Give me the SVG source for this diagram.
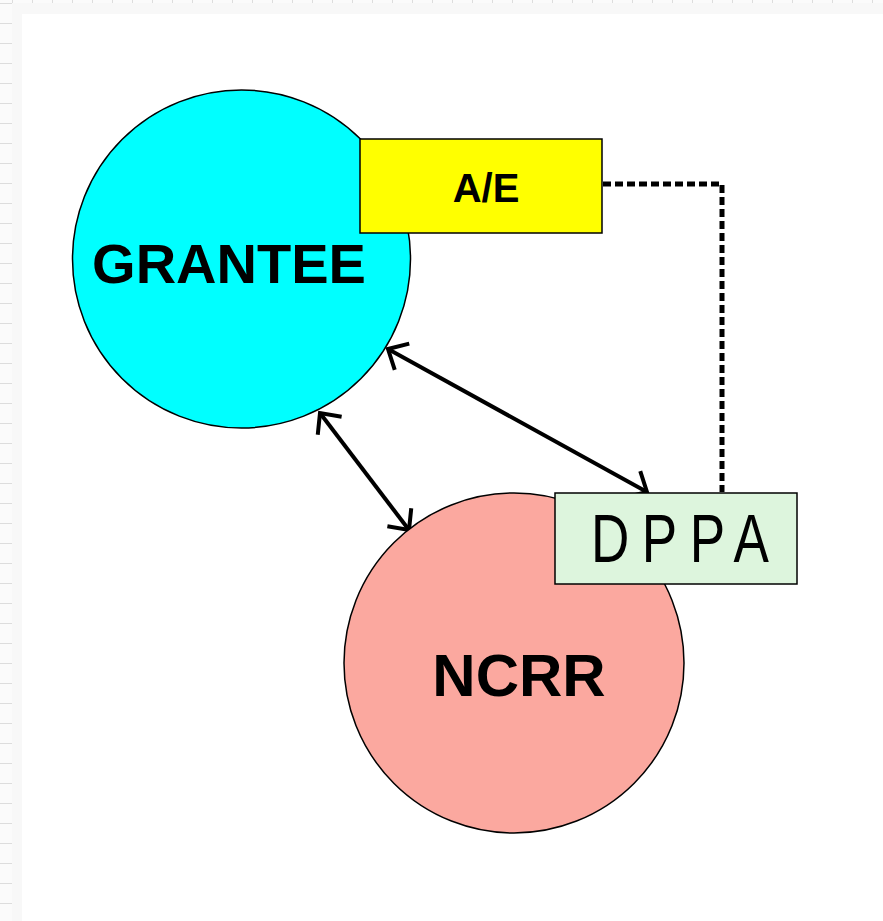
<svg xmlns="http://www.w3.org/2000/svg" width="883" height="921" viewBox="0 0 883 921">
<style>
.node{stroke:#000;stroke-width:1.5}
.lbl{font-family:"Liberation Sans",Arial,sans-serif;font-weight:bold;fill:#000;text-anchor:middle}
.conn{stroke:#000;stroke-width:4;fill:none}
.dot{stroke:#000;stroke-width:5;fill:none;stroke-dasharray:8 4}
</style>
<defs>
<pattern id="grid" width="20" height="20" patternUnits="userSpaceOnUse" x="-8" y="-17">
<rect width="20" height="20" fill="#fbfbfb"/>
<path d="M0,0 H20 M0,0 V20" stroke="#dddddd" stroke-width="2"/>
</pattern>
<marker id="head" markerUnits="userSpaceOnUse" markerWidth="40" markerHeight="40" viewBox="-20 -20 40 40" refX="0" refY="0" orient="auto-start-reverse">
<path d="M-16,-15 L0,0 L-16,15" fill="none" stroke="#000" stroke-width="4"/>
</marker>
</defs>
<rect width="883" height="921" fill="url(#grid)"/>
<rect x="12" y="3" width="871" height="918" fill="#f8f8f8"/>
<rect x="22" y="14" width="861" height="907" fill="#ffffff"/>

<g id="connectors">
<path class="dot" d="M603,184 H722 V492"/>
<line class="conn" x1="388" y1="349" x2="647" y2="492" marker-start="url(#head)" marker-end="url(#head)"/>
<line class="conn" x1="320" y1="413" x2="409" y2="530" marker-start="url(#head)" marker-end="url(#head)"/>
</g>

<g id="grantee">
<circle class="node" cx="241.5" cy="259" r="169" fill="#00ffff"/>
<text class="lbl" x="229" y="283" font-size="56">GRANTEE</text>
</g>

<g id="ae">
<rect class="node" x="360" y="139" width="242" height="94" fill="#ffff00"/>
<text class="lbl" x="486" y="202" font-size="40">A/E</text>
</g>

<g id="ncrr">
<circle class="node" cx="514" cy="663" r="170" fill="#fba89f"/>
<text class="lbl" x="519" y="696" font-size="60">NCRR</text>
</g>

<g id="dppa">
<rect class="node" x="555" y="493" width="242" height="91" fill="#ddf5dd"/>
<text transform="translate(591,562) scale(0.78,1)" font-family="'Liberation Sans',Arial,sans-serif" font-size="68" letter-spacing="16" fill="#000">DPPA</text>
</g>
</svg>
